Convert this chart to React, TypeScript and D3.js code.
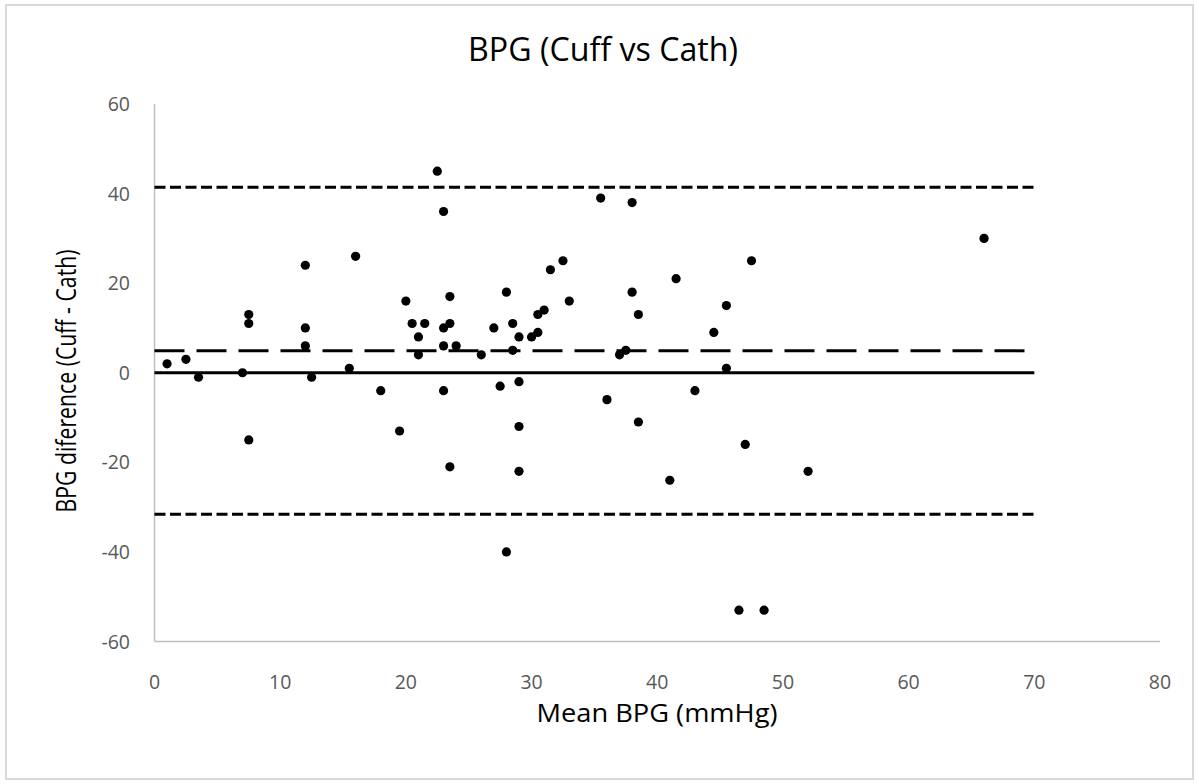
import React from "react";
import * as d3 from "d3";

const meanBPG: number[] = [
  1, 2.5, 3.5, 7, 7.5, 7.5, 7.5, 12, 12, 12, 12.5, 15.5, 16, 18, 19.5, 20, 20.5, 21, 21, 21.5,
  22.5, 23, 23.5, 23, 23.5, 23, 24, 23, 23.5, 26, 27, 27.5, 28, 28, 28.5, 28.5, 29, 29, 29, 29,
  30, 30.5, 30.5, 31, 31.5, 32.5, 33, 35.5, 36, 37, 37.5, 38, 38, 38.5, 38.5, 41, 41.5, 43, 44.5,
  45.5, 45.5, 46.5, 47, 47.5, 48.5, 52, 66,
];
const diffBPG: number[] = [
  2, 3, -1, 0, 13, 11, -15, 24, 10, 6, -1, 1, 26, -4, -13, 16, 11, 8, 4, 11,
  45, 36, 17, 10, 11, 6, 6, -4, -21, 4, 10, -3, 18, -40, 11, 5, 8, -2, -12, -22,
  8, 9, 13, 14, 23, 25, 16, 39, -6, 4, 5, 38, 18, 13, -11, -24, 21, -4, 9,
  15, 1, -53, -16, 25, -53, -22, 30,
];
const lineX: number[] = [0, 70];
const zeroLine: number[] = [0, 0];
const biasLine: number[] = [4.9, 4.9];
const upperLoA: number[] = [41.4, 41.4];
const lowerLoA: number[] = [-31.6, -31.6];
const xTicks: number[] = [0, 10, 20, 30, 40, 50, 60, 70, 80];
const yTicks: number[] = [-60, -40, -20, 0, 20, 40, 60];

const W = 1199;
const H = 784;
const M = { left: 154.5, right: 1160, top: 104, bottom: 641.5 };
const FONT = "'Open Sans', 'Noto Sans', sans-serif";

export default function App() {
  const x = d3.scaleLinear().domain([0, 80]).range([M.left, M.right]);
  const y = d3.scaleLinear().domain([-60, 60]).range([M.bottom, M.top]);
  const line = d3
    .line<[number, number]>()
    .x((d) => x(d[0]))
    .y((d) => y(d[1]));
  const mk = (ys: number[]) => line(lineX.map((v, i) => [v, ys[i]] as [number, number])) || "";

  return (
    <svg
      width={W}
      height={H}
      style={{ position: "absolute", left: 0, top: 0, background: "#fff" }}
    >
      <rect x={0} y={0} width={W} height={H} fill="#fff" />
      <rect x={6} y={5} width={1187} height={774} fill="#fff" stroke="#d9d9d9" strokeWidth={2} />
      <text
        x={603}
        y={61}
        textAnchor="middle"
        fontFamily={FONT}
        fontSize={32}
        textLength={270}
        lengthAdjust="spacingAndGlyphs"
        fill="#000"
      >
        BPG (Cuff vs Cath)
      </text>
      {/* axes */}
      <line x1={M.left} x2={M.left} y1={M.top} y2={M.bottom} stroke="#bfbfbf" strokeWidth={1.5} />
      <line x1={M.left} x2={M.right} y1={M.bottom} y2={M.bottom} stroke="#bfbfbf" strokeWidth={1.5} />
      {yTicks.map((t) => (
        <text key={"y" + t} x={130} y={y(t) + 7} textAnchor="end" fontFamily={FONT} fontSize={19.5} fill="#595959">
          {t}
        </text>
      ))}
      {xTicks.map((t) => (
        <text key={"x" + t} x={x(t)} y={688.5} textAnchor="middle" fontFamily={FONT} fontSize={19.5} fill="#595959">
          {t}
        </text>
      ))}
      <text
        x={657}
        y={722}
        textAnchor="middle"
        fontFamily={FONT}
        fontSize={26}
        textLength={241}
        lengthAdjust="spacingAndGlyphs"
        fill="#000"
      >
        Mean BPG (mmHg)
      </text>
      <text
        transform={`translate(76, 381) rotate(-90)`}
        textAnchor="middle"
        fontFamily={FONT}
        fontSize={26.5}
        textLength={263}
        lengthAdjust="spacingAndGlyphs"
        fill="#000"
      >
        BPG diference (Cuff - Cath)
      </text>
      {/* reference lines */}
      <path d={mk(zeroLine)} stroke="#000" strokeWidth={3} fill="none" />
      <path d={mk(biasLine)} stroke="#000" strokeWidth={3} strokeDasharray="30,12" fill="none" />
      <path d={mk(upperLoA)} stroke="#000" strokeWidth={3} strokeDasharray="11,4.5" fill="none" />
      <path d={mk(lowerLoA)} stroke="#000" strokeWidth={3} strokeDasharray="11,4.5" fill="none" />
      {meanBPG.map((m, i) => (
        <circle key={i} cx={x(m)} cy={y(diffBPG[i])} r={4.6} fill="#000" />
      ))}
    </svg>
  );
}
